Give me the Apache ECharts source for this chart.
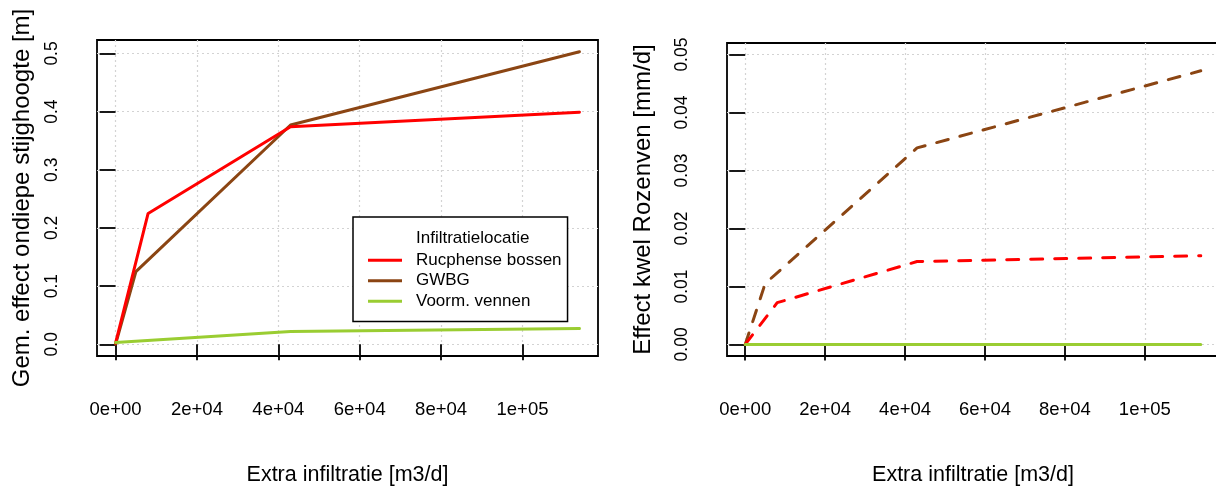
<!DOCTYPE html>
<html>
<head>
<meta charset="utf-8">
<script src="https://cdn.jsdelivr.net/npm/echarts@6/dist/echarts.min.js"></script>
<style>
html,body{margin:0;padding:0;background:#fff;}
#chart{width:1216px;height:488px;}
</style>
</head>
<body>
<div id="chart"></div>
<script>
// ---- data ----
const seriesNames = ['Rucphense bossen', 'GWBG', 'Voorm. vennen'];
const rucX    = [0, 8000, 43000, 114000];
const gwbgX   = [0, 5000, 43000, 114000];
const vennenX = [0, 43000, 114000];

// left panel: Gem. effect ondiepe stijghoogte [m]
const rucStijg    = [0.002, 0.225, 0.374, 0.399];
const gwbgStijg   = [0.000, 0.125, 0.377, 0.503];
const vennenStijg = [0.003, 0.022, 0.027];

// right panel: Effect kwel Rozenven [mm/d]
const rucKwel    = [0, 0.0072, 0.0143, 0.0153];
const gwbgKwel   = [0, 0.0105, 0.0339, 0.0472];
const vennenKwel = [0, 0, 0];

const xTicks = [0, 20000, 40000, 60000, 80000, 100000];
const xTickLabels = ['0e+00', '2e+04', '4e+04', '6e+04', '8e+04', '1e+05'];
const yTicksLeft = [0, 0.1, 0.2, 0.3, 0.4, 0.5];
const yTickLabelsLeft = ['0.0', '0.1', '0.2', '0.3', '0.4', '0.5'];
const yTicksRight = [0, 0.01, 0.02, 0.03, 0.04, 0.05];
const yTickLabelsRight = ['0.00', '0.01', '0.02', '0.03', '0.04', '0.05'];

const xTitle = 'Extra infiltratie [m3/d]';
const yTitleLeft = 'Gem. effect ondiepe stijghoogte [m]';
const yTitleRight = 'Effect kwel Rozenven [mm/d]';
const legendTitle = 'Infiltratielocatie';

// ---- styling ----
const FONT = 'Liberation Sans, Arial, sans-serif';
const colors = {'Rucphense bossen': '#FF0000', 'GWBG': '#8B4513', 'Voorm. vennen': '#9ACD32'};

function pairs(xs, ys) { return xs.map((x, i) => [x, ys[i]]); }
function rExtend(lo, hi) { const d = (hi - lo) * 0.04; return [lo - d, hi + d]; }

const xRange = rExtend(0, 114000);
const yRangeLeft = rExtend(0, 0.503);
const yRangeRight = rExtend(0, 0.05);

function xAxisDef(gridIndex) {
  return {
    type: 'value', gridIndex: gridIndex,
    min: xRange[0], max: xRange[1],
    name: xTitle, nameLocation: 'middle', nameGap: 108,
    nameTextStyle: {fontFamily: FONT, fontSize: 21.5, color: '#000'},
    axisLine: {show: false},
    axisTick: {show: true, inside: false, length: 16, customValues: xTicks,
      lineStyle: {color: '#000', width: 1.8}},
    axisLabel: {show: true, margin: 44, customValues: xTicks,
      fontFamily: FONT, fontSize: 18.5, color: '#000',
      formatter: v => xTickLabels[xTicks.indexOf(v)] ?? ''},
    splitLine: {show: true, lineStyle: {color: '#D3D3D3', type: [2, 3], width: 1.2}}
  };
}
function yAxisDef(gridIndex, range, ticks, labels, title, gap) {
  return {
    type: 'value', gridIndex: gridIndex,
    min: range[0], max: range[1],
    name: title, nameLocation: 'middle', nameGap: gap, nameRotate: 90,
    nameTextStyle: {fontFamily: FONT, fontSize: 24, color: '#000'},
    axisLine: {show: false},
    axisTick: {show: true, inside: false, length: 16, customValues: ticks,
      lineStyle: {color: '#000', width: 1.8}},
    axisLabel: {show: true, margin: 36, rotate: 90, customValues: ticks,
      fontFamily: FONT, fontSize: 17.5, color: '#000',
      formatter: v => {
        let best = 0;
        ticks.forEach((t, i) => { if (Math.abs(t - v) < Math.abs(ticks[best] - v)) best = i; });
        return labels[best];
      }},
    splitLine: {show: true, lineStyle: {color: '#D3D3D3', type: [2, 3], width: 1.2}}
  };
}

function lineSeries(name, xi, yi, xs, ys, dashed, z) {
  return {
    type: 'line', name: name, xAxisIndex: xi, yAxisIndex: yi,
    data: pairs(xs, ys), symbol: 'none', silent: true, animation: false, z: z,
    lineStyle: {color: colors[name], width: 3,
      type: dashed ? [12, 12] : 'solid', cap: 'round', join: 'round'},
    itemStyle: {color: colors[name]}
  };
}

const chart = echarts.init(document.getElementById('chart'), null, {renderer: 'canvas'});
chart.setOption({
  animation: false,
  backgroundColor: '#fff',
  title: {
    text: legendTitle, left: 416, top: 230, padding: 0, z: 30,
    textStyle: {fontFamily: FONT, fontSize: 17, fontWeight: 'normal', color: '#000'}
  },
  grid: [
    {left: 97, top: 40, width: 501, height: 316, show: true, borderColor: '#000', borderWidth: 1.8,
     backgroundColor: 'transparent', containLabel: false, outerBoundsMode: 'none'},
    {left: 727, top: 43, width: 492, height: 313, show: true, borderColor: '#000', borderWidth: 1.8,
     backgroundColor: 'transparent', containLabel: false, outerBoundsMode: 'none'}
  ],
  xAxis: [xAxisDef(0), xAxisDef(1)],
  yAxis: [
    yAxisDef(0, yRangeLeft, yTicksLeft, yTickLabelsLeft, yTitleLeft, 63),
    yAxisDef(1, yRangeRight, yTicksRight, yTickLabelsRight, yTitleRight, 72)
  ],
  legend: {
    data: seriesNames.map(n => ({name: n, icon: 'rect'})),
    orient: 'vertical', left: 353, top: 217,
    padding: [33, 6, 10, 15], itemGap: 0, itemWidth: 34, itemHeight: 3,
    borderColor: '#000', borderWidth: 1.5, backgroundColor: '#fff',
    selectedMode: false, z: 10,
    textStyle: {fontFamily: FONT, fontSize: 17, color: '#000', lineHeight: 20.5, padding: [0, 0, 0, 9]}
  },
  series: [
    lineSeries('GWBG', 0, 0, gwbgX, gwbgStijg, false, 2),
    lineSeries('Rucphense bossen', 0, 0, rucX, rucStijg, false, 3),
    lineSeries('Voorm. vennen', 0, 0, vennenX, vennenStijg, false, 4),
    lineSeries('GWBG', 1, 1, gwbgX, gwbgKwel, true, 2),
    lineSeries('Rucphense bossen', 1, 1, rucX, rucKwel, true, 3),
    lineSeries('Voorm. vennen', 1, 1, vennenX, vennenKwel, false, 4)
  ]
});
</script>
</body>
</html>
